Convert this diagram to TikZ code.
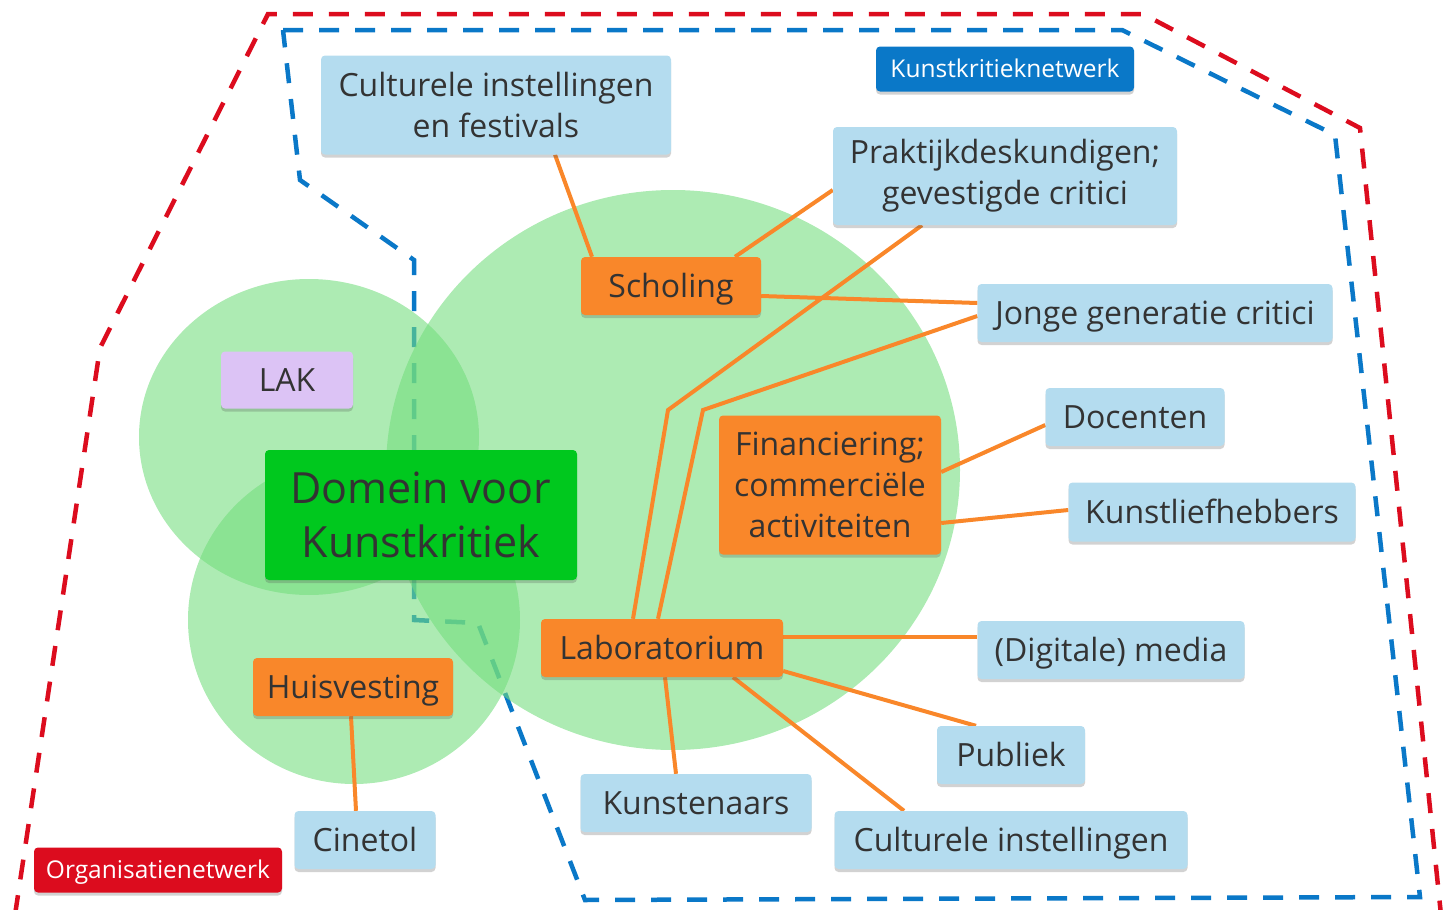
\documentclass[tikz,border=0pt]{standalone}
\usepackage{fontspec}
\setmainfont{Open Sans}
\usepackage{tikz}
\usetikzlibrary{shadows}

\definecolor{txtgray}{RGB}{51,51,51}
\definecolor{boxblue}{RGB}{180,220,239}
\definecolor{boxorange}{RGB}{249,135,42}
\definecolor{boxgreen}{RGB}{0,200,30}
\definecolor{boxlilac}{RGB}{220,195,245}
\definecolor{netblue}{RGB}{10,120,200}
\definecolor{netred}{RGB}{220,12,30}
\definecolor{blobgreen}{RGB}{115,221,125}

\pgfdeclarelayer{back}
\pgfsetlayers{back,main}

\tikzset{
    box/.style={rounded corners=4pt, inner sep=0pt, align=center, text=txtgray,
        font=\fontsize{32}{41}\selectfont,
        drop shadow={shadow xshift=0pt, shadow yshift=-3pt, opacity=0.25, fill=black!70}},
    oneline/.style={text height=30pt, text depth=7pt},
    bluebox/.style={box, fill=boxblue},
    orangebox/.style={box, fill=boxorange},
    tagbox/.style={box, text=white, font=\fontsize{24.5}{30}\selectfont,
        text height=22pt, text depth=6pt},
    connector/.style={draw=boxorange, line width=4pt},
    netline/.style={line width=4.5pt, dash pattern=on 20pt off 16pt},
    blob/.style={fill=blobgreen, opacity=0.585},
}

\begin{document}
\begin{tikzpicture}[x=1pt, y=-1pt]
    \useasboundingbox (0,0) rectangle (1452,910);

    % nodes
    \node[bluebox, minimum width=350pt, minimum height=99pt] (cultfest) at (496,105)
        {Culturele instellingen\\en festivals};
    \node[tagbox, fill=netblue, minimum width=258pt, minimum height=45pt] (kunstnet) at (1005,69)
        {Kunstkritieknetwerk};
    \node[bluebox, minimum width=344pt, minimum height=98pt] (prakt) at (1005,176)
        {Praktijkdeskundigen;\\gevestigde critici};
    \node[orangebox, oneline, minimum width=180pt, minimum height=58pt] (scholing) at (671,286)
        {Scholing};
    \node[bluebox, oneline, minimum width=355pt, minimum height=58pt] (jonge) at (1155,313)
        {Jonge generatie critici};
    \node[box, oneline, fill=boxlilac, minimum width=132pt, minimum height=57pt] (lak) at (287,380)
        {LAK};
    \node[bluebox, oneline, minimum width=179pt, minimum height=58pt] (docenten) at (1135,417)
        {Docenten};
    \node[orangebox, minimum width=222pt, minimum height=139pt] (fin) at (830,485)
        {Financiering;\\commerciële\\activiteiten};
    \node[box, fill=boxgreen, font=\fontsize{43}{54}\selectfont,
        minimum width=312pt, minimum height=130pt] (domein) at (421,515)
        {Domein voor\\Kunstkritiek};
    \node[bluebox, oneline, minimum width=287pt, minimum height=59pt] (kunstlief) at (1212,512)
        {Kunstliefhebbers};
    \node[orangebox, oneline, minimum width=242pt, minimum height=58pt] (lab) at (662,648)
        {Laboratorium};
    \node[bluebox, oneline, minimum width=267pt, minimum height=58pt] (media) at (1111,650)
        {(Digitale) media};
    \node[orangebox, oneline, minimum width=200pt, minimum height=58pt] (huis) at (353,687)
        {Huisvesting};
    \node[bluebox, oneline, minimum width=148pt, minimum height=58pt] (publiek) at (1011,755)
        {Publiek};
    \node[bluebox, oneline, minimum width=231pt, minimum height=58pt] (kunstenaars) at (696,803)
        {Kunstenaars};
    \node[bluebox, oneline, minimum width=141pt, minimum height=58pt] (cinetol) at (365,840)
        {Cinetol};
    \node[bluebox, oneline, minimum width=353pt, minimum height=58pt] (cultinst) at (1011,840)
        {Culturele instellingen};
    \node[tagbox, fill=netred, minimum width=248pt, minimum height=45pt] (orgnet) at (158,870)
        {Organisatienetwerk};

    \coordinate (bendprakt) at (668,410);
    \coordinate (bendjonge) at (703,410);

    \begin{pgfonlayer}{back}
        % network borders
        \draw[netline, netred] (15,915) -- (100,348) -- (268,14) -- (1143,14)
            -- (1360,128) -- (1441,915);
        \draw[netline, netblue] (283,30) -- (1122,30) -- (1335,135) -- (1420,897)
            -- (585,900) -- (478,623) -- (414,620) -- (414,260) -- (300,180) -- cycle;

        % domains
        \fill[blob] (309,437) ellipse [x radius=170, y radius=158];
        \fill[blob] (354,620) ellipse [x radius=166, y radius=164];
        \fill[blob] (673,470) ellipse [x radius=287, y radius=280];

        % links
        \draw[connector] ([xshift=59pt]cultfest.south) -- ([xshift=-79pt]scholing.north);
        \draw[connector] ([xshift=64pt]scholing.north) -- ([yshift=-14pt]prakt.west);
        \draw[connector] ([yshift=-10pt]scholing.east) -- ([yshift=10pt]jonge.west);
        \draw[connector] ([xshift=-29pt]lab.north) -- (bendprakt) -- ([xshift=-83pt]prakt.south);
        \draw[connector] ([xshift=-4pt]lab.north) -- (bendjonge) -- ([yshift=-3pt]jonge.west);
        \draw[connector] ([yshift=13pt]fin.east) -- ([yshift=-8pt]docenten.west);
        \draw[connector] ([yshift=-38pt]fin.east) -- ([yshift=2pt]kunstlief.west);
        \draw[connector] ([yshift=11pt]lab.east) -- ([yshift=13pt]media.west);
        \draw[connector] ([yshift=-23pt]lab.east) -- ([xshift=-35pt]publiek.north);
        \draw[connector] ([xshift=71pt]lab.south) -- ([xshift=-107pt]cultinst.north);
        \draw[connector] ([xshift=3pt]lab.south) -- ([xshift=-20pt]kunstenaars.north);
        \draw[connector] ([xshift=-2pt]huis.south) -- ([xshift=-9pt]cinetol.north);
    \end{pgfonlayer}
\end{tikzpicture}
\end{document}
